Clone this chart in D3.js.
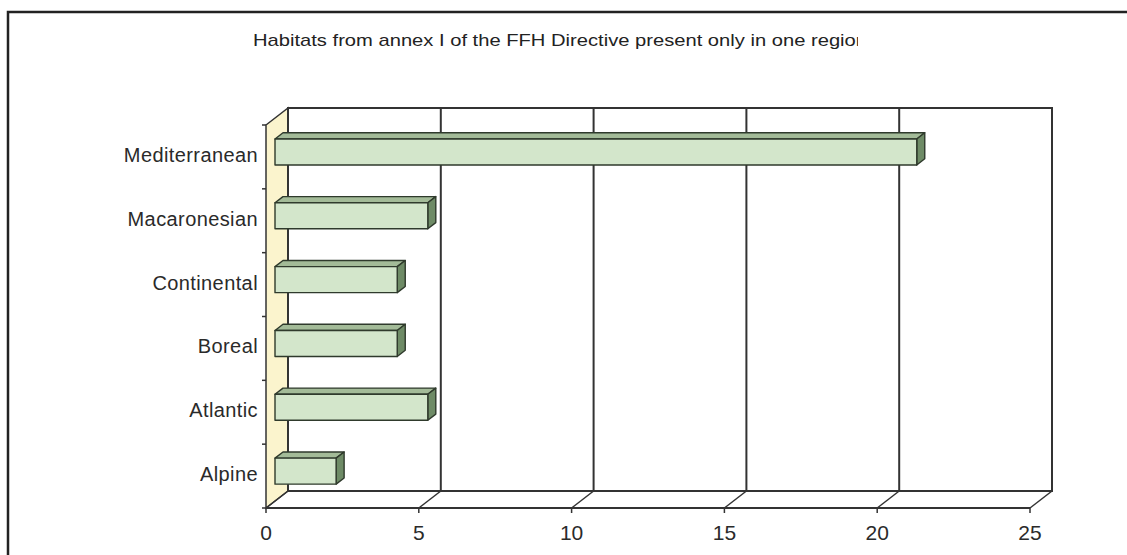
<!DOCTYPE html>
<html>
<head>
<meta charset="utf-8">
<script src="https://cdn.jsdelivr.net/npm/d3@7"></script>
<style>
  html, body { margin: 0; padding: 0; background: #fff; }
  svg { display: block; }
</style>
</head>
<body>
<svg id="chart" width="1127" height="555"></svg>
<script>
// Habitat counts per biogeographical region
const regions = ["Alpine", "Atlantic", "Boreal", "Continental", "Macaronesian", "Mediterranean"];
const habitatCounts = [2, 5, 4, 4, 5, 21];
const xTicks = [0, 5, 10, 15, 20, 25];
const chartTitle = "Habitats from annex I  of the FFH Directive present only in one region";

const svg = d3.select("#chart");
const W = 1127, H = 555;

// Front plane of the 3-D box
const x = d3.scaleLinear().domain([0, 25]).range([266, 1030]);
const y = d3.scaleBand().domain(regions.slice().reverse()).range([125, 508]);
// Depth vector from front plane to back wall
const DX = 22, DY = -17;
const proj = (px, py, d) => [px + d * DX, py + d * DY];

const ink = "#333";
const data = regions.map((r, i) => ({ region: r, value: habitatCounts[i] }));

// Outer frame
svg.append("rect")
  .attr("x", 8).attr("y", 12).attr("width", W + 20).attr("height", H + 20)
  .attr("fill", "none").attr("stroke", "#222").attr("stroke-width", 2.5);

// Title (runs past the right edge of its box and is cut there)
svg.append("clipPath").attr("id", "titleClip")
  .append("rect").attr("x", 0).attr("y", 0).attr("width", 858).attr("height", 80);
svg.append("text")
  .attr("clip-path", "url(#titleClip)")
  .attr("x", 253).attr("y", 46)
  .attr("font-family", "Liberation Sans, Arial, sans-serif")
  .attr("font-size", 17)
  .attr("textLength", 614).attr("lengthAdjust", "spacingAndGlyphs")
  .attr("fill", "#222")
  .text(chartTitle);

const y0 = y.range()[0], y1 = y.range()[1];
const xa = x(0), xb = x(25);

// Left wall
const wall = [proj(xa, y0, 0), proj(xa, y0, 1), proj(xa, y1, 1), proj(xa, y1, 0)];
svg.append("path")
  .attr("d", "M" + wall.join("L") + "Z")
  .attr("fill", "#fbf4cd").attr("stroke", ink).attr("stroke-width", 1.5);

// Back wall
const bw = proj(xa, y0, 1), bwEnd = proj(xb, y1, 1);
svg.append("rect")
  .attr("x", bw[0]).attr("y", bw[1])
  .attr("width", bwEnd[0] - bw[0]).attr("height", bwEnd[1] - bw[1])
  .attr("fill", "#fff").attr("stroke", ink).attr("stroke-width", 2);

// Vertical grid lines on the back wall and their floor diagonals
const g = svg.append("g").attr("stroke", ink).attr("stroke-width", 2).attr("fill", "none");
xTicks.forEach(t => {
  const top = proj(x(t), y0, 1), bot = proj(x(t), y1, 1), front = proj(x(t), y1, 0);
  if (t > 0 && t < 25) {
    g.append("line").attr("x1", top[0]).attr("y1", top[1]).attr("x2", bot[0]).attr("y2", bot[1]);
  }
  g.append("line").attr("x1", bot[0]).attr("y1", bot[1]).attr("x2", front[0]).attr("y2", front[1])
    .attr("stroke-width", 1.5);
  g.append("line").attr("x1", front[0]).attr("y1", front[1]).attr("x2", front[0]).attr("y2", front[1] + 5)
    .attr("stroke-width", 1.5);
});

// Floor front edge (value axis)
g.append("line").attr("x1", xa).attr("y1", y1).attr("x2", xb).attr("y2", y1).attr("stroke-width", 2);

// Category axis ticks on the left wall front edge
y.domain().forEach(c => {
  g.append("line").attr("x1", xa - 4).attr("y1", y(c)).attr("x2", xa).attr("y2", y(c)).attr("stroke-width", 1.5);
});
g.append("line").attr("x1", xa - 4).attr("y1", y1).attr("x2", xa).attr("y2", y1).attr("stroke-width", 1.5);

// 3-D bars
const barH = 26, dFront = 9 / 22, dBack = 17 / 22;
const bars = svg.append("g").attr("stroke", "#2f3a2c").attr("stroke-width", 1.4).attr("stroke-linejoin", "round");
data.forEach(d => {
  const cy = y(d.region) + y.bandwidth() / 2 + 2;
  const t = cy - barH / 2, b = cy + barH / 2;
  const fl = proj(x(0), t, dFront), fr = proj(x(d.value), t, dFront);
  const frb = proj(x(d.value), b, dFront), flb = proj(x(0), b, dFront);
  const bl = proj(x(0), t, dBack), br = proj(x(d.value), t, dBack), brb = proj(x(d.value), b, dBack);
  // top face
  bars.append("path").attr("d", "M" + [fl, bl, br, fr].join("L") + "Z").attr("fill", "#a3bb98");
  // end face
  bars.append("path").attr("d", "M" + [fr, br, brb, frb].join("L") + "Z").attr("fill", "#6e8b66");
  // front face
  bars.append("path").attr("d", "M" + [fl, fr, frb, flb].join("L") + "Z").attr("fill", "#d3e6cb");
});

// Category labels
svg.append("g")
  .attr("font-family", "Liberation Sans, Arial, sans-serif")
  .attr("font-size", 20).attr("fill", "#2a2a2a").attr("letter-spacing", 0.4)
  .attr("text-anchor", "end")
  .selectAll("text").data(data).join("text")
  .attr("x", 258)
  .attr("y", d => y(d.region) + y.bandwidth() / 2 - 2)
  .attr("dy", "0.35em")
  .text(d => d.region);

// Value labels
svg.append("g")
  .attr("font-family", "Liberation Sans, Arial, sans-serif")
  .attr("font-size", 21).attr("fill", "#2a2a2a")
  .attr("text-anchor", "middle")
  .selectAll("text").data(xTicks).join("text")
  .attr("x", d => x(d))
  .attr("y", 540)
  .text(d => d);
</script>
</body>
</html>
